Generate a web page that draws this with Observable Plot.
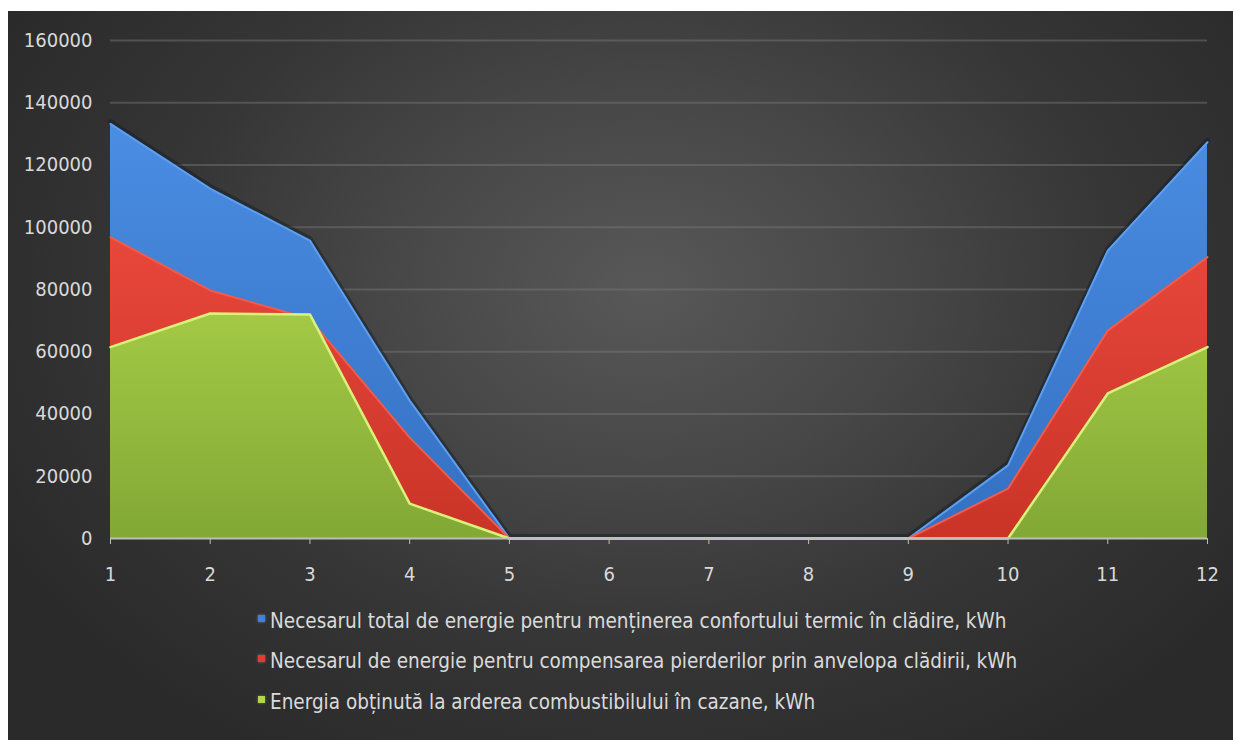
<!DOCTYPE html>
<html>
<head>
<meta charset="utf-8">
<script src="https://cdn.jsdelivr.net/npm/d3@7"></script>
<script src="https://cdn.jsdelivr.net/npm/@observablehq/plot@0.6"></script>
<style>
  html, body { margin: 0; padding: 0; background: #ffffff; width: 1233px; height: 740px; overflow: hidden; }
  #frame {
    position: absolute; left: 8px; top: 11px; width: 1225px; height: 729px;
    background: radial-gradient(ellipse 60% 75% at 52% 38%, #585858 0%, #474747 35%, #363636 65%, #2a2a2a 100%);
    font-family: "DejaVu Sans Condensed", "DejaVu Sans", sans-serif;
    font-stretch: condensed;
  }
  #chart { position: absolute; left: 0; top: 0; }
  .legend { position: absolute; left: 250px; color: #dadada; font-size: 20.5px; white-space: nowrap; line-height: 1; }
  .legend .sw { display: inline-block; width: 7px; height: 7px; margin-right: 5px; vertical-align: 6px; box-shadow: 0 0 3px rgba(255,255,255,0.35); }
</style>
</head>
<body>
<div id="frame">
  <div id="chart"></div>
  <div id="legend"></div>
</div>
<script>
// ---- data ----
const months = [1, 2, 3, 4, 5, 6, 7, 8, 9, 10, 11, 12];
const totalNeed = [133200, 112400, 95700, 44300, 0, 0, 0, 0, 0, 23500, 92500, 127300];
const envelopeLoss = [96800, 79700, 70500, 32400, 0, 0, 0, 0, 0, 16000, 66800, 90400];
const fuelEnergy = [61500, 72300, 72000, 11200, 0, 0, 0, 0, 0, 0, 46600, 61500];
const yTicks = [0, 20000, 40000, 60000, 80000, 100000, 120000, 140000, 160000];
const seriesNames = [
  "Necesarul total de energie pentru menținerea confortului termic în clădire, kWh",
  "Necesarul de energie pentru compensarea pierderilor prin anvelopa clădirii, kWh",
  "Energia obținută la arderea combustibilului în cazane, kWh"
];

const rows = (vals) => months.map((m, i) => ({month: m, value: vals[i]}));
const blue = rows(totalNeed), red = rows(envelopeLoss), green = rows(fuelEnergy);

const plot = Plot.plot({
  width: 1225,
  height: 575,
  marginLeft: 102,
  marginRight: 26,
  marginTop: 29,
  marginBottom: 48,
  style: {background: "transparent", color: "#d9d9d9", fontSize: "20px",
          fontFamily: "'DejaVu Sans Condensed', 'DejaVu Sans', sans-serif"},
  x: {domain: [1, 12], label: null},
  y: {domain: [0, 160000], label: null},
  marks: [
    Plot.gridY(yTicks.filter(d => d > 0), {stroke: "#7a7a7a", strokeOpacity: 0.45, strokeWidth: 2}),
    // shadow behind the blue series
    Plot.lineY(blue, {x: "month", y: "value", stroke: "#16202c", strokeOpacity: 0.55, strokeWidth: 5, dy: -2}),
    Plot.areaY(blue, {x: "month", y1: 0, y2: "value", fill: "url(#gBlue)"}),
    Plot.lineY(blue, {x: "month", y: "value", stroke: "#5d9ff0", strokeWidth: 2}),
    Plot.areaY(red, {x: "month", y1: 0, y2: "value", fill: "url(#gRed)"}),
    Plot.lineY(red, {x: "month", y: "value", stroke: "#f25b4b", strokeWidth: 2}),
    Plot.areaY(green, {x: "month", y1: 0, y2: "value", fill: "url(#gGreen)"}),
    Plot.lineY(green, {x: "month", y: "value", stroke: "#d9f27a", strokeWidth: 2.5}),
    Plot.ruleY([0], {stroke: "#bdbdbd", strokeWidth: 2}),
    Plot.axisX({ticks: months, tickFormat: d => String(d), tickSize: 6, tickPadding: 22, stroke: "#bdbdbd", fill: "#d9d9d9", label: null}),
    Plot.axisY({ticks: yTicks, tickFormat: d => String(d), tickSize: 0, tickPadding: 18, fill: "#d9d9d9", label: null})
  ]
});

// gradient definitions for area fills
const ns = "http://www.w3.org/2000/svg";
const defs = document.createElementNS(ns, "defs");
const grads = [
  ["gBlue", "#4a8de2", "#3470c2"],
  ["gRed", "#e8473b", "#c93427"],
  ["gGreen", "#a3c946", "#82a835"]
];
for (const [id, top, bot] of grads) {
  const g = document.createElementNS(ns, "linearGradient");
  g.setAttribute("id", id);
  g.setAttribute("x1", "0"); g.setAttribute("y1", "0");
  g.setAttribute("x2", "0"); g.setAttribute("y2", "1");
  for (const [off, col] of [["0", top], ["1", bot]]) {
    const s = document.createElementNS(ns, "stop");
    s.setAttribute("offset", off);
    s.setAttribute("stop-color", col);
    g.appendChild(s);
  }
  defs.appendChild(g);
}
plot.insertBefore(defs, plot.firstChild);
document.getElementById("chart").appendChild(plot);

// legend
const swatches = ["#3f82dc", "#e23a35", "#b2d64a"];
const tops = [600, 640, 681];
const legend = document.getElementById("legend");
seriesNames.forEach((name, i) => {
  const div = document.createElement("div");
  div.className = "legend";
  div.style.top = tops[i] + "px";
  const sw = document.createElement("span");
  sw.className = "sw";
  sw.style.background = swatches[i];
  div.appendChild(sw);
  div.appendChild(document.createTextNode(name));
  legend.appendChild(div);
});
</script>
</body>
</html>
